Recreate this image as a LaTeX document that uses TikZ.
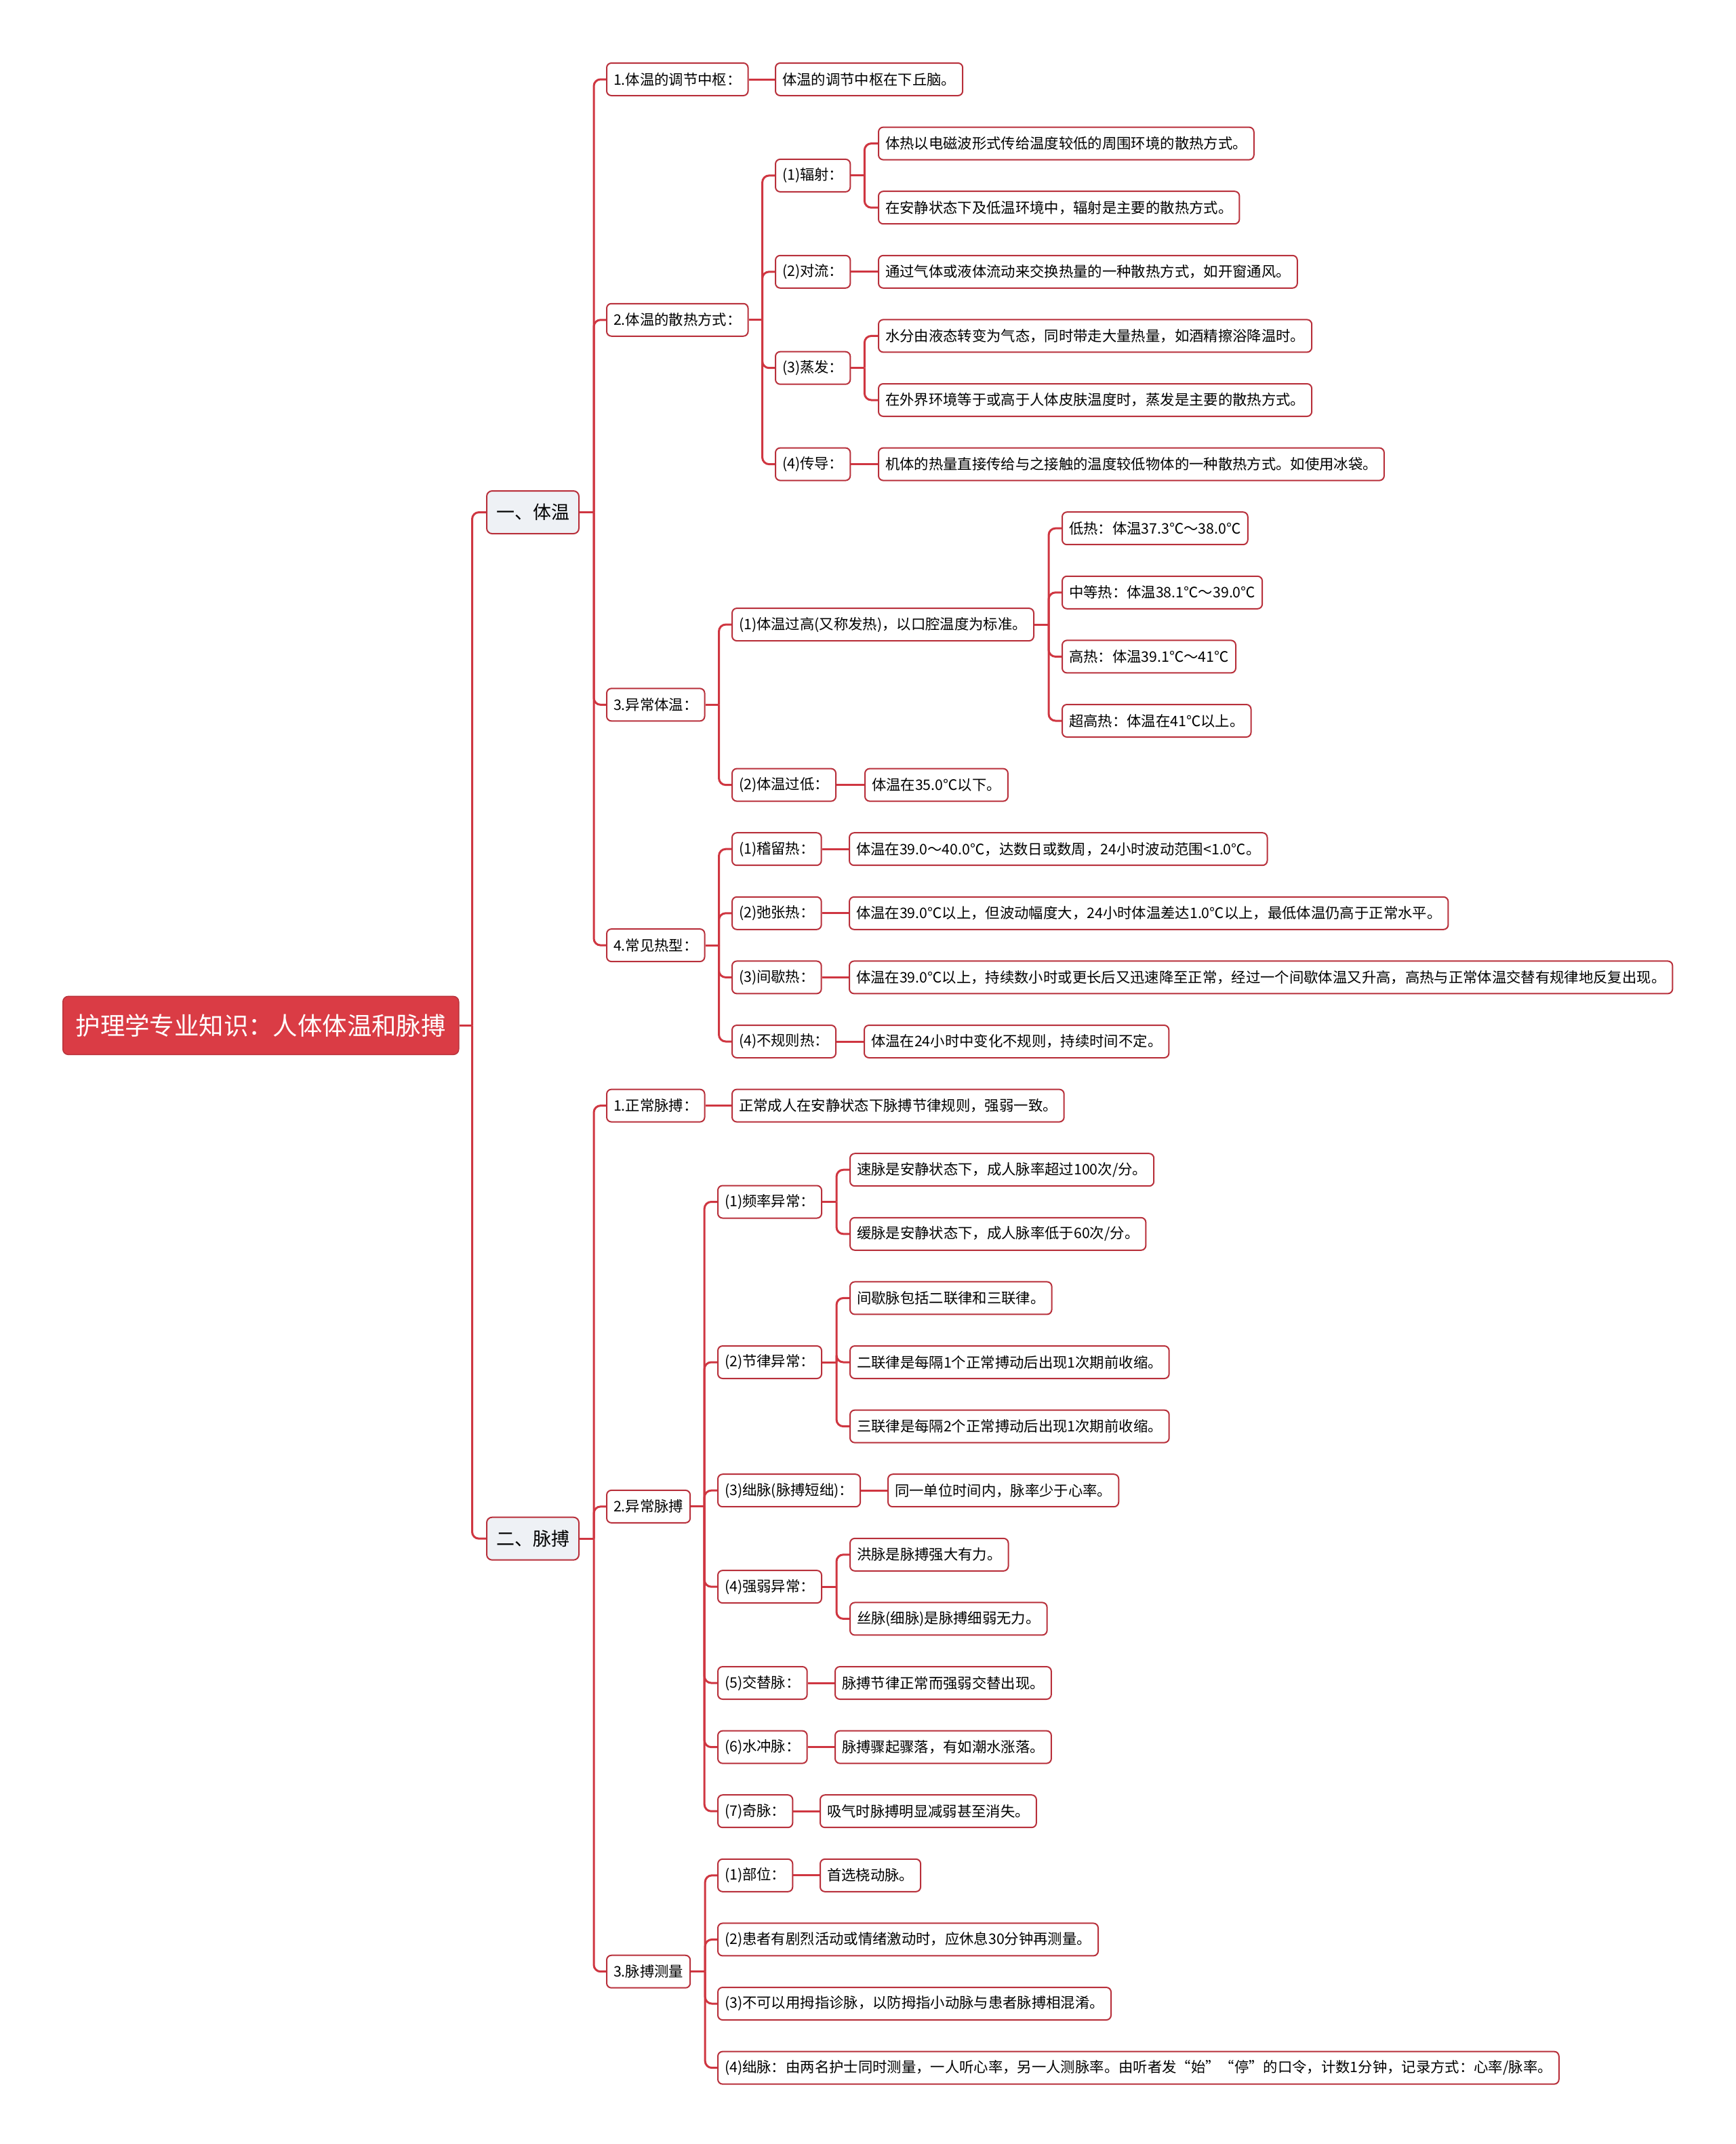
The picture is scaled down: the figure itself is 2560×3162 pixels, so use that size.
\documentclass[tikz,border=0pt]{standalone}
\usepackage{fontspec}
\setmainfont{Noto Sans CJK SC}
\usepackage{xcolor}
\definecolor{linkred}{HTML}{CF3641}
\definecolor{boxred}{HTML}{B8303B}
\definecolor{rootred}{HTML}{DA3C45}
\definecolor{topicgray}{HTML}{EEF1F5}

\begin{document}
\begin{tikzpicture}[
    x=1pt, y=-94.6pt,
    root/.style={rectangle, draw=rootred!85!black, line width=1.5pt, fill=rootred, text=white, anchor=west, minimum height=86pt, inner xsep=19pt, rounded corners=8pt, font=\fontsize{36.4}{42}\selectfont},
    topic/.style={rectangle, draw=boxred, line width=2pt, fill=topicgray, anchor=west, minimum height=63pt, inner xsep=14pt, rounded corners=8pt, font=\fontsize{27}{32}\selectfont},
    item/.style={rectangle, draw=boxred, line width=2pt, fill=white, anchor=west, minimum height=48pt, inner xsep=10pt, inner ysep=2pt, rounded corners=7pt, font=\fontsize{21.35}{26}\selectfont},
    link/.style={draw=linkred, line width=3pt},
    elbow/.style={link, rounded corners=10pt}
]
\useasboundingbox (0pt,117pt) rectangle (2560pt,-3045pt);

% Root and main topics
\node[root] (r) at (92,14.75) {护理学专业知识：人体体温和脉搏};
\node[topic] (t1) at (717,6.75) {一、体温};
\node[topic] (t2) at (717,22.75) {二、脉搏};
\coordinate (rj) at ([xshift=19pt]r.east);
\draw[link] (r.east) -- (rj); \draw[elbow] (rj) |- (t1.west); \draw[elbow] (rj) |- (t2.west);

% Topic 1: body temperature
\node[item] (a1) at (894,0) {1.体温的调节中枢：};
\node[item] (a2) at (894,3.75) {2.体温的散热方式：};
\node[item] (a3) at (894,9.75) {3.异常体温：};
\node[item] (a4) at (894,13.5) {4.常见热型：};
\coordinate (t1j) at ([xshift=21pt]t1.east);
\draw[link] (t1.east) -- (t1j);
\draw[elbow] (t1j) |- (a1.west); \draw[elbow] (t1j) |- (a2.west); \draw[elbow] (t1j) |- (a3.west); \draw[elbow] (t1j) |- (a4.west);

\node[item] (a11) at (1143,0) {体温的调节中枢在下丘脑。};
\draw[link] (a1) -- (a11);

% heat loss
\node[item] (a21) at (1143,1.5) {(1)辐射：};
\node[item] (a22) at (1143,3) {(2)对流：};
\node[item] (a23) at (1143,4.5) {(3)蒸发：};
\node[item] (a24) at (1143,6) {(4)传导：};
\coordinate (a2j) at ([xshift=20pt]a2.east);
\draw[link] (a2.east) -- (a2j);
\draw[elbow] (a2j) |- (a21.west); \draw[elbow] (a2j) |- (a22.west); \draw[elbow] (a2j) |- (a23.west); \draw[elbow] (a2j) |- (a24.west);

\node[item] (a211) at (1295,1) {体热以电磁波形式传给温度较低的周围环境的散热方式。};
\node[item] (a212) at (1295,2) {在安静状态下及低温环境中，辐射是主要的散热方式。};
\coordinate (a21j) at ([xshift=20pt]a21.east);
\draw[link] (a21.east) -- (a21j); \draw[elbow] (a21j) |- (a211.west); \draw[elbow] (a21j) |- (a212.west);

\node[item] (a221) at (1295,3) {通过气体或液体流动来交换热量的一种散热方式，如开窗通风。};
\draw[link] (a22) -- (a221);

\node[item] (a231) at (1295,4) {水分由液态转变为气态，同时带走大量热量，如酒精擦浴降温时。};
\node[item] (a232) at (1295,5) {在外界环境等于或高于人体皮肤温度时，蒸发是主要的散热方式。};
\coordinate (a23j) at ([xshift=20pt]a23.east);
\draw[link] (a23.east) -- (a23j); \draw[elbow] (a23j) |- (a231.west); \draw[elbow] (a23j) |- (a232.west);

\node[item] (a241) at (1295,6) {机体的热量直接传给与之接触的温度较低物体的一种散热方式。如使用冰袋。};
\draw[link] (a24) -- (a241);

% abnormal temperature
\node[item] (a31) at (1079,8.5) {(1)体温过高(又称发热)，以口腔温度为标准。};
\node[item] (a32) at (1079,11) {(2)体温过低：};
\coordinate (a3j) at ([xshift=20pt]a3.east);
\draw[link] (a3.east) -- (a3j); \draw[elbow] (a3j) |- (a31.west); \draw[elbow] (a3j) |- (a32.west);

\node[item] (a311) at (1566,7) {低热：体温37.3℃～38.0℃};
\node[item] (a312) at (1566,8) {中等热：体温38.1℃～39.0℃};
\node[item] (a313) at (1566,9) {高热：体温39.1℃～41℃};
\node[item] (a314) at (1566,10) {超高热：体温在41℃以上。};
\coordinate (a31j) at ([xshift=21pt]a31.east);
\draw[link] (a31.east) -- (a31j);
\draw[elbow] (a31j) |- (a311.west); \draw[elbow] (a31j) |- (a312.west); \draw[elbow] (a31j) |- (a313.west); \draw[elbow] (a31j) |- (a314.west);

\node[item] (a321) at (1275,11) {体温在35.0℃以下。};
\draw[link] (a32) -- (a321);

% fever types
\node[item] (a41) at (1079,12) {(1)稽留热：};
\node[item] (a42) at (1079,13) {(2)弛张热：};
\node[item] (a43) at (1079,14) {(3)间歇热：};
\node[item] (a44) at (1079,15) {(4)不规则热：};
\coordinate (a4j) at ([xshift=20pt]a4.east);
\draw[link] (a4.east) -- (a4j);
\draw[elbow] (a4j) |- (a41.west); \draw[elbow] (a4j) |- (a42.west); \draw[elbow] (a4j) |- (a43.west); \draw[elbow] (a4j) |- (a44.west);

\node[item] (a411) at (1252,12) {体温在39.0～40.0℃，达数日或数周，24小时波动范围<1.0℃。};
\node[item] (a421) at (1252,13) {体温在39.0℃以上，但波动幅度大，24小时体温差达1.0℃以上，最低体温仍高于正常水平。};
\node[item] (a431) at (1252,14) {体温在39.0℃以上，持续数小时或更长后又迅速降至正常，经过一个间歇体温又升高，高热与正常体温交替有规律地反复出现。};
\node[item] (a441) at (1274,15) {体温在24小时中变化不规则，持续时间不定。};
\draw[link] (a41) -- (a411); \draw[link] (a42) -- (a421); \draw[link] (a43) -- (a431); \draw[link] (a44) -- (a441);

% Topic 2: pulse
\node[item] (b1) at (894,16) {1.正常脉搏：};
\node[item] (b2) at (894,22.25) {2.异常脉搏};
\node[item] (b3) at (894,29.5) {3.脉搏测量};
\coordinate (t2j) at ([xshift=21pt]t2.east);
\draw[link] (t2.east) -- (t2j);
\draw[elbow] (t2j) |- (b1.west); \draw[elbow] (t2j) |- (b2.west); \draw[elbow] (t2j) |- (b3.west);

\node[item] (b11) at (1079,16) {正常成人在安静状态下脉搏节律规则，强弱一致。};
\draw[link] (b1) -- (b11);

% abnormal pulse
\node[item] (b21) at (1058,17.5) {(1)频率异常：};
\node[item] (b22) at (1058,20) {(2)节律异常：};
\node[item] (b23) at (1058,22) {(3)绌脉(脉搏短绌)：};
\node[item] (b24) at (1058,23.5) {(4)强弱异常：};
\node[item] (b25) at (1058,25) {(5)交替脉：};
\node[item] (b26) at (1058,26) {(6)水冲脉：};
\node[item] (b27) at (1058,27) {(7)奇脉：};
\coordinate (b2j) at ([xshift=20pt]b2.east);
\draw[link] (b2.east) -- (b2j);
\draw[elbow] (b2j) |- (b21.west); \draw[elbow] (b2j) |- (b22.west); \draw[elbow] (b2j) |- (b23.west); \draw[elbow] (b2j) |- (b24.west);
\draw[elbow] (b2j) |- (b25.west); \draw[elbow] (b2j) |- (b26.west); \draw[elbow] (b2j) |- (b27.west);

\node[item] (b211) at (1253,17) {速脉是安静状态下，成人脉率超过100次/分。};
\node[item] (b212) at (1253,18) {缓脉是安静状态下，成人脉率低于60次/分。};
\coordinate (b21j) at ([xshift=21pt]b21.east);
\draw[link] (b21.east) -- (b21j); \draw[elbow] (b21j) |- (b211.west); \draw[elbow] (b21j) |- (b212.west);

\node[item] (b221) at (1253,19) {间歇脉包括二联律和三联律。};
\node[item] (b222) at (1253,20) {二联律是每隔1个正常搏动后出现1次期前收缩。};
\node[item] (b223) at (1253,21) {三联律是每隔2个正常搏动后出现1次期前收缩。};
\coordinate (b22j) at ([xshift=21pt]b22.east);
\draw[link] (b22.east) -- (b22j);
\draw[elbow] (b22j) |- (b221.west); \draw[elbow] (b22j) |- (b222.west); \draw[elbow] (b22j) |- (b223.west);

\node[item] (b231) at (1309,22) {同一单位时间内，脉率少于心率。};
\draw[link] (b23) -- (b231);

\node[item] (b241) at (1253,23) {洪脉是脉搏强大有力。};
\node[item] (b242) at (1253,24) {丝脉(细脉)是脉搏细弱无力。};
\coordinate (b24j) at ([xshift=21pt]b24.east);
\draw[link] (b24.east) -- (b24j); \draw[elbow] (b24j) |- (b241.west); \draw[elbow] (b24j) |- (b242.west);

\node[item] (b251) at (1231,25) {脉搏节律正常而强弱交替出现。};
\node[item] (b261) at (1231,26) {脉搏骤起骤落，有如潮水涨落。};
\node[item] (b271) at (1209,27) {吸气时脉搏明显减弱甚至消失。};
\draw[link] (b25) -- (b251); \draw[link] (b26) -- (b261); \draw[link] (b27) -- (b271);

% pulse measurement
\node[item] (b31) at (1058,28) {(1)部位：};
\node[item] (b32) at (1058,29) {(2)患者有剧烈活动或情绪激动时，应休息30分钟再测量。};
\node[item] (b33) at (1058,30) {(3)不可以用拇指诊脉，以防拇指小动脉与患者脉搏相混淆。};
\node[item] (b34) at (1058,31) {(4)绌脉：由两名护士同时测量，一人听心率，另一人测脉率。由听者发“始”“停”的口令，计数1分钟，记录方式：心率/脉率。};
\coordinate (b3j) at ([xshift=21pt]b3.east);
\draw[link] (b3.east) -- (b3j);
\draw[elbow] (b3j) |- (b31.west); \draw[elbow] (b3j) |- (b32.west); \draw[elbow] (b3j) |- (b33.west); \draw[elbow] (b3j) |- (b34.west);

\node[item] (b311) at (1209,28) {首选桡动脉。};
\draw[link] (b31) -- (b311);

\end{tikzpicture}
\end{document}
